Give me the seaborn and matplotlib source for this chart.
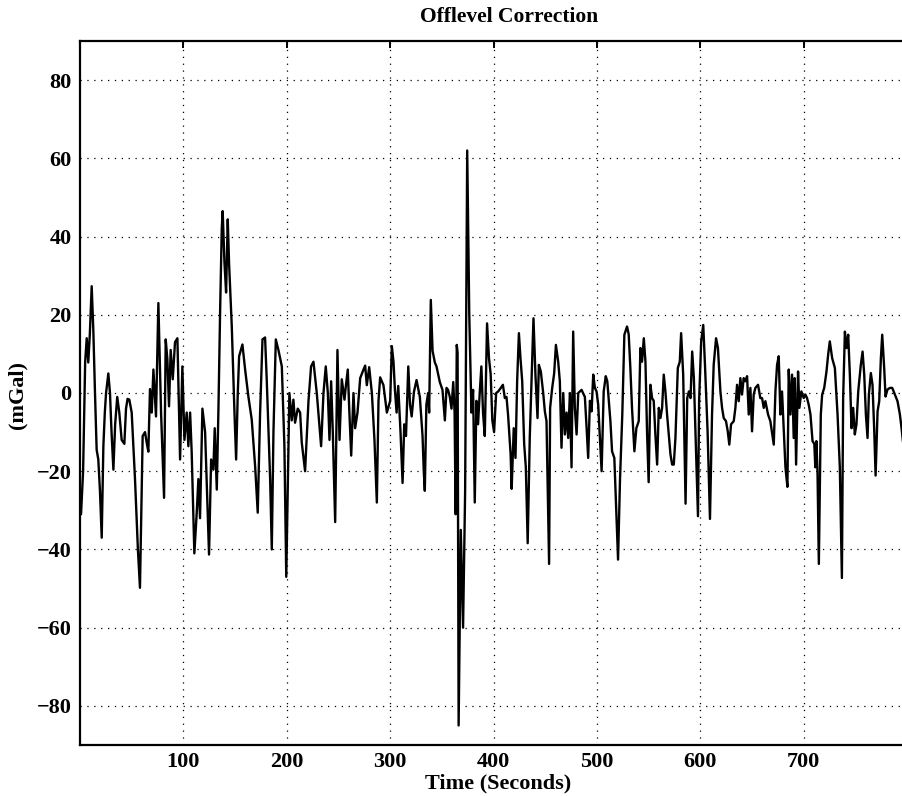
import matplotlib
matplotlib.use("Agg")
import matplotlib.pyplot as plt
import seaborn as sns
import pandas as pd

# ---- data ----
time_s = [
    1, 3, 5, 6.5, 8, 9.5, 11.3, 12.9, 14.5, 16.1, 17.7, 19.3, 21, 22.6, 24, 25.2, 27.4, 29, 30.5, 32.3,
    34, 36, 38, 40.3, 42.9, 44.5, 46, 47.7, 50, 53.2, 56, 58, 60.6, 62.9, 64.5, 66.1, 67.7, 69.4, 71, 73.5,
    75.8, 78.4, 81.3, 82.9, 84.5, 86.1, 87.7, 89.7, 91.9, 94.2, 96.8, 99, 101, 103.2, 104.8,
    106.5, 108, 110.6, 112.9, 114.5, 116.1, 118.4, 121, 124.8, 126.8, 129, 130.3, 132.3, 133.9, 135.5,
    137.1, 138, 139.7, 141.3, 142.9, 144.2, 146.8, 149.4, 151, 152.6, 153.9, 157.1, 159.7, 162.9, 166.1,
    169.4, 171.9, 174.2, 176.5, 179, 180.6, 183.9, 185.5, 187.1, 189.4, 191.9, 195.2, 197.7, 199.5,
    201.2, 202.5, 204.8, 206.4, 208, 210.6, 212.9, 214.5, 217.7, 221, 223.5, 225.8, 229, 233.2, 235.5,
    237.7, 239.7, 241.3, 242.9, 244.5, 246.8, 249, 251, 253.2, 255.8, 257.1, 259, 260.3, 262.3, 264.5,
    266.1, 268.4, 271, 274.2, 275.8, 277.4, 279.7, 282.3, 284.8, 287.1, 288.7, 290.3, 293.5, 296.8, 300,
    301.6, 303.2, 304.6, 306.2, 307.8, 310, 312, 313.6, 315.3, 317.5, 319.2, 320.8, 323, 325.5, 328.7,
    331.3, 332.5, 333.5, 335, 336.7, 337.7, 339.3, 341, 343.2, 344.8, 348, 350.6, 352.9, 354.5, 356,
    357.7, 359.3, 361, 362.3, 363.3, 364.4, 365.2, 366.2, 368.3, 370.5, 372.5, 374.5, 376.5, 378.6, 380.2,
    381.8, 383.4, 385, 386.6, 388.2, 389.8, 391.5, 393.7, 395.6, 397.2, 398.8, 400.5, 402.5,
    404.5, 407, 409, 410.9, 412.5, 414, 415.7, 416.5, 417.5, 419.5, 421.2, 422.8, 424.5, 426, 427.7,
    429.6, 431.2, 433, 435, 436.7, 438.6, 440.5, 442.5, 443.8, 445.7, 448, 449.6, 451.2, 453.7, 454.7,
    456.7, 458.6, 460.3, 462.5, 464.1, 465.7, 467.4, 469, 470.6, 472.2, 473.8, 475.4, 477, 478.6, 480.3,
    481.9, 485.1, 488.3, 490, 491.5, 493.2, 494.8, 496.4, 498, 499.6, 501.2, 504.5,
    506.5, 508.5, 510, 513, 514.6, 516.8, 520.4, 522.3, 524.5, 526.5, 529.1, 530.7, 532.3, 533.9, 536.2,
    538.1, 540.4, 542, 543.6, 545.3, 546.9, 548.5, 550, 551.7, 553.3, 554.9, 556.5, 558.2, 559.8, 561.4,
    563, 564.6, 566.2, 567.8, 571.1, 572.7, 574.3, 575.9, 578.2, 580.1, 581.4, 583.4, 585.7, 587.3,
    588.9, 590.5, 592.1, 593.7, 597.7, 598.8, 600.8, 602.8, 604.5, 607, 609.3, 611.3, 612.9, 615.2,
    617, 619.4, 621, 622.6, 624.8, 626.5, 628, 629.7, 632.3, 633.9, 635.5, 637.1, 638.7, 640.3, 641.9,
    643.5, 645.2, 646.8, 648.4, 650, 651.6, 653.2, 655.8, 658, 659.7, 661.3, 662.9, 665.5, 667.7, 671,
    672.6, 674.2, 675.8, 677.4, 679, 680.6, 682.3, 684.2, 685.5, 687.1, 688.7, 690.3, 691.3, 692.6,
    694.5, 695.8, 697.7, 700, 701.6, 703.2, 704.8, 706.5, 708.5, 710.2, 711.2, 712.2, 713.3, 714.6,
    716.5, 717.8, 719.8, 722, 723.6, 725.2, 727.5, 730.1, 732.7, 734.9, 736.9, 738.1, 739.8, 741.4,
    743, 744.6, 746.2, 747.8, 749.4, 751, 752.7, 755.2, 756.9, 758.5, 760.1, 761.7, 763, 764.9, 766.5,
    768.1, 769.5, 771.4, 773, 774.6, 775.9, 777.8, 779.1, 781, 783.3, 785.6, 788.1, 790.7, 793, 794.6,
    796,
]
offlevel_mgal = [
    -31, -20, 8, 14, 7.8, 15, 27.3, 16, 0, -14.5, -17, -25, -37, -13.6, -5, 0, 5, 0, -10, -19.6,
    -8, -1, -5, -12, -13, -4, -1.5, -1.7, -5, -22, -40, -49.8, -11, -10, -12.7, -15, 1, -5, 6, -6,
    23, -5, -26.8, 13.7, 8.6, -3.4, 11, 3.5, 13, 14, -17, 6.8, -12, -5, -13.6,
    -5, -15, -41, -30.6, -22, -32, -4, -10, -41.3, -17, -19.6, -9, -24.7, -4, 20.6,
    41.9, 46.5, 33.4, 25.7, 44.4, 33, 17, -5, -17, 0, 9.4, 12.4, 6, -1, -6.8,
    -18.8, -30.6, -5, 13.7, 14.2, 3.5, -22, -40, -10, 13.7, 11, 6.8, -13.6, -47,
    -20, 0, -7, -1.7, -7.6, -4, -5, -12.7, -20, -2, 6.8, 8, 0, -13.6, 0,
    6.8, 0, -12, 3, -10, -33, 11, -12, 3.5, -1.7, 1.7, 6, -3.4, -16, 0,
    -9, -5, 3.8, 6, 7, 2, 6.6, 0, -12, -28, -2, 4, 2, -5, -2,
    12, 8, 0.8, -5, 1.8, -10, -23, -8, -11, 6.8, -3, -6, 0.3, 3.3, -1,
    -11, -20, -25, -3, 0, -5, 23.8, 10.8, 7.8, 6.8, 2.8, 0.8, -7, 1.3, 0.8,
    -1, -4, 2.8, -5, -31, 12.3, 10.3, -85, -35, -60, -25, 62, 20, -5, 0.8,
    -28, -2, -8, 0, 6.8, -5, -11, 17.8, 8.8, 4.8, -7, -10, 0,
    0.4, 1.3, 2.1, -1.3, -1, -5.5, -12.3, -15.7, -24.5, -9, -16.6, 3, 15.3, 9, 3,
    -13, -19, -38.4, -11.5, 3, 19.1, 4.7, -6.4, 7.2, 5.5, 0, -4.7, -7.2, -43.7, -3.8,
    1.3, 5, 12.3, 8, 3, -14, 0, -10.6, -5, -11.5, 0, -19, 15.7, -3.8, -10.6,
    0, 0.8, -1, -9, -16.6, -2, -4.7, 4.7, 1.3, 0.4, -3, -20,
    0.4, 4.3, 3, -7.2, -14.9, -16.6, -42.6, -22, -5.5, 14.9, 17, 15, 6.4, -3.8, -14.9,
    -9, -7.2, 11.5, 8, 14, 8, -10.6, -22.8, 2.1, -1.3, -2, -10.6, -18.3, -3.8, -6.4,
    -3.8, 4.7, 0.4, -5.5, -15.7, -18.3, -18.3, -11.5, 6.4, 8, 15.3, 4.7, -28.3, -1.3,
    0.4, -1.3, 10.6, 4, -31.5, -2, 13.2, 17.4, 7, -9.8, -32.2, -5.5, 7.2, 14,
    11.5, 0.4, -3.8, -6.4, -7.2, -9.8, -13.2, -8, -7.2, -3.8, 2.1, -2.1, 3.8, -0.4, 3.8,
    3, 4.3, -5.5, 1.3, -9.8, -0.4, 1.3, 2.1, -1.3, -1.3, -3.8, -2.1, -5.5, -7.2, -13.2,
    0.4, 7.2, 9.4, -5.5, 0.4, -8.9, -19, -24, 6, -5.5, 4.7, -11.5, 3.8, -18.3,
    5.5, -3.8, 0.4, -1.3, -0.4, -1.3, -3, -5.5, -12.3, -13, -19, -12.3, -20, -43.7,
    -5.5, -0.4, 1.3, 5.5, 9.8, 13.2, 8.9, 6.4, -5.5, -19, -47.3, -1.3, 15.7, 11.5,
    14.9, 4.7, -9, -3.8, -10.6, -8, 0.4, 7.2, 10.6, 4.7, -5.5, -11.5, -0.4, 5.1, 2.1,
    -9, -21.1, -4.7, -2.1, 8.9, 14.9, 6.4, -0.9, 0.9, 1.3, 1.3, -0.4, -2.1, -5.5, -9,
    -12.5,
]
x_ticks = [100, 200, 300, 400, 500, 600, 700]
y_ticks = [-80, -60, -40, -20, 0, 20, 40, 60, 80]

df = pd.DataFrame({"Time (Seconds)": time_s, "(mGal)": offlevel_mgal})

sns.set_style("white")
plt.rcParams["font.family"] = ["Liberation Serif", "DejaVu Serif"]
plt.rcParams["font.weight"] = "bold"
plt.rcParams["axes.labelweight"] = "bold"
plt.rcParams["axes.titleweight"] = "bold"
plt.rcParams["text.color"] = "black"
plt.rcParams["axes.labelcolor"] = "black"

fig = plt.figure(figsize=(9.03, 7.96), dpi=100)
ax = fig.add_axes([80 / 903, 1 - 745 / 796, 1 - 80 / 903, (745 - 41) / 796])

sns.lineplot(data=df, x="Time (Seconds)", y="(mGal)", ax=ax, color="black",
             linewidth=1.7, estimator=None, sort=False)

ax.set_xlim(0, 796)
ax.set_ylim(-90, 90)
ax.set_xticks(x_ticks)
ax.set_yticks(y_ticks)
ax.grid(True, color="black", linestyle=(0, (1, 4.5)), linewidth=0.9)
ax.set_axisbelow(True)

for side in ["left", "bottom", "top"]:
    ax.spines[side].set_color("black")
    ax.spines[side].set_linewidth(1.6)
ax.spines["right"].set_visible(False)

ax.tick_params(axis="both", which="major", direction="in", length=5, width=1.4,
               labelsize=16, colors="black", top=True, right=False)
ax.tick_params(axis="x", pad=5)
ax.tick_params(axis="y", pad=6)
for lbl in ax.get_xticklabels() + ax.get_yticklabels():
    lbl.set_fontweight("bold")

ax.set_title("Offlevel Correction", fontsize=15.5, fontweight="bold", color="black",
             x=0.521, pad=14)
ax.set_xlabel("Time (Seconds)", fontsize=16, fontweight="bold", color="black")
ax.set_ylabel("(mGal)", fontsize=16, fontweight="bold", color="black")
ax.xaxis.set_label_coords(0.508, -0.040)
ax.yaxis.set_label_coords(-0.064, 0.497)

fig.savefig("out.png", dpi=100)
